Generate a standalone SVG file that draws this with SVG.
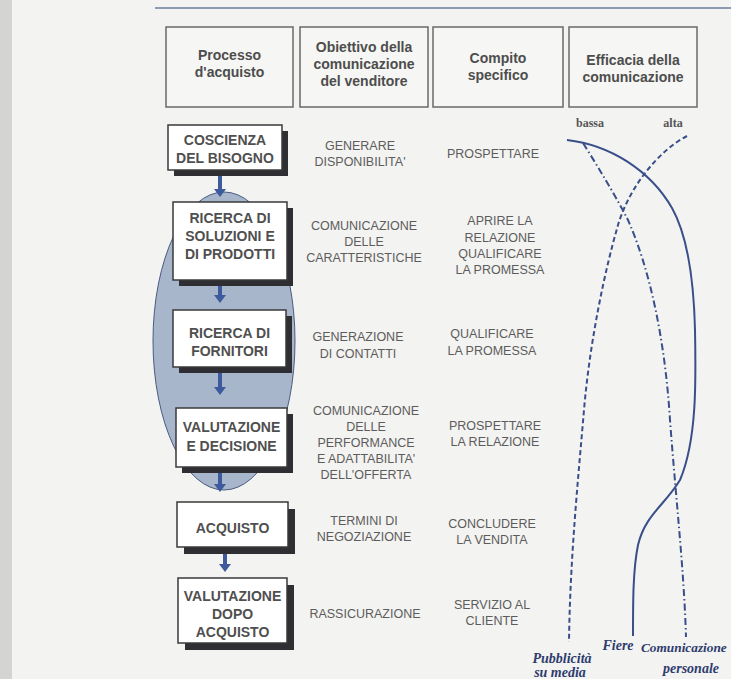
<svg xmlns="http://www.w3.org/2000/svg" width="731" height="679" viewBox="0 0 731 679">
<style>
.hdr{fill:#f6f6f4;stroke:#6a6a6a;stroke-width:1.5}
.ht{font-family:"Liberation Sans",Arial,sans-serif;font-weight:bold;font-size:14px;fill:#4d4d4d;text-anchor:middle}
.box{fill:#ffffff;stroke:#3a3a3a;stroke-width:1.5}
.sh{fill:#2f2f33}
.pt{font-family:"Liberation Sans",Arial,sans-serif;font-weight:bold;font-size:14px;fill:#4f4f4f;text-anchor:middle}
.ct{font-family:"Liberation Sans",Arial,sans-serif;font-size:12.5px;fill:#5c5c5c;text-anchor:middle}
.lbl{font-family:"Liberation Serif","Times New Roman",serif;font-weight:bold;font-style:italic;font-size:14px;fill:#2e3c6e;text-anchor:middle}
.ax{font-family:"Liberation Serif","Times New Roman",serif;font-weight:bold;font-size:12px;fill:#555;text-anchor:middle}
.arr{stroke:#3d5a9c;stroke-width:4;fill:none}
.ah{fill:#3d5a9c}
.cv{fill:none;stroke:#3a4f8a;stroke-width:2}
</style>
<rect x="0" y="0" width="731" height="679" fill="#f3f3f1"/>
<rect x="0" y="0" width="12" height="679" fill="#d4d4d2"/>
<line x1="155" y1="8" x2="731" y2="8" stroke="#8d9ab3" stroke-width="2"/>

<g id="headers">
  <g id="h1"><rect class="hdr" x="166" y="27" width="127" height="80"/>
    <text class="ht" x="229.5" y="60">Processo</text><text class="ht" x="229.5" y="77">d'acquisto</text></g>
  <g id="h2"><rect class="hdr" x="300" y="27" width="128" height="80"/>
    <text class="ht" x="364" y="52">Obiettivo della</text><text class="ht" x="364" y="69">comunicazione</text><text class="ht" x="364" y="86">del venditore</text></g>
  <g id="h3"><rect class="hdr" x="433" y="27" width="130" height="80"/>
    <text class="ht" x="498" y="63">Compito</text><text class="ht" x="498" y="80">specifico</text></g>
  <g id="h4"><rect class="hdr" x="569" y="27" width="128" height="80"/>
    <text class="ht" x="633" y="65">Efficacia della</text><text class="ht" x="633" y="82">comunicazione</text></g>
</g>

<ellipse id="area" cx="224" cy="341" rx="71" ry="149" fill="#a8b6cc" stroke="#4a5a80" stroke-width="1"/>

<g id="connectors">
  <line class="arr" x1="220" y1="175" x2="220" y2="190"/><polygon class="ah" points="214,189 226,189 220,197"/>
  <line class="arr" x1="220" y1="285" x2="220" y2="296"/><polygon class="ah" points="214,295 226,295 220,303"/>
  <line class="arr" x1="220" y1="373" x2="220" y2="388"/><polygon class="ah" points="214,387 226,387 220,395"/>
  <line class="arr" x1="220" y1="473" x2="220" y2="485"/><polygon class="ah" points="214,484 226,484 220,492"/>
  <line class="arr" x1="225" y1="553" x2="225" y2="565"/><polygon class="ah" points="219,564 231,564 225,572"/>
</g>

<g id="n1"><rect class="sh" x="174" y="131" width="114" height="45"/><rect class="box" x="168" y="125" width="114" height="45"/>
  <text class="pt" x="225" y="145">COSCIENZA</text><text class="pt" x="225" y="163">DEL BISOGNO</text></g>
<g id="n2"><rect class="sh" x="179" y="208" width="114" height="78"/><rect class="box" x="173" y="202" width="114" height="78"/>
  <text class="pt" x="230" y="223">RICERCA DI</text><text class="pt" x="230" y="241">SOLUZIONI E</text><text class="pt" x="230" y="259">DI PRODOTTI</text></g>
<g id="n3"><rect class="sh" x="179" y="316" width="113" height="57"/><rect class="box" x="173" y="310" width="113" height="57"/>
  <text class="pt" x="229.5" y="338">RICERCA DI</text><text class="pt" x="229.5" y="356">FORNITORI</text></g>
<g id="n4"><rect class="sh" x="182" y="414" width="111" height="59"/><rect class="box" x="176" y="408" width="111" height="59"/>
  <text class="pt" x="231.5" y="432">VALUTAZIONE</text><text class="pt" x="231.5" y="451">E DECISIONE</text></g>
<g id="n5"><rect class="sh" x="184" y="509" width="111" height="45"/><rect class="box" x="177" y="502" width="111" height="45"/>
  <text class="pt" x="232.5" y="533">ACQUISTO</text></g>
<g id="n6"><rect class="sh" x="185" y="585" width="109" height="65"/><rect class="box" x="178" y="578" width="109" height="65"/>
  <text class="pt" x="232.5" y="601">VALUTAZIONE</text><text class="pt" x="232.5" y="619">DOPO</text><text class="pt" x="232.5" y="637">ACQUISTO</text></g>

<g id="col2">
  <text class="ct" x="360" y="150">GENERARE</text><text class="ct" x="360" y="166">DISPONIBILITA'</text>
  <text class="ct" x="364" y="230">COMUNICAZIONE</text><text class="ct" x="364" y="246">DELLE</text><text class="ct" x="364" y="262">CARATTERISTICHE</text>
  <text class="ct" x="358" y="341">GENERAZIONE</text><text class="ct" x="358" y="358">DI CONTATTI</text>
  <text class="ct" x="366" y="415">COMUNICAZIONE</text><text class="ct" x="366" y="431">DELLE</text><text class="ct" x="366" y="447">PERFORMANCE</text><text class="ct" x="366" y="463">E ADATTABILITA'</text><text class="ct" x="366" y="479">DELL'OFFERTA</text>
  <text class="ct" x="364" y="525">TERMINI DI</text><text class="ct" x="364" y="541">NEGOZIAZIONE</text>
  <text class="ct" x="365" y="618">RASSICURAZIONE</text>
</g>
<g id="col3">
  <text class="ct" x="493" y="158">PROSPETTARE</text>
  <text class="ct" x="500" y="225">APRIRE LA</text><text class="ct" x="500" y="242">RELAZIONE</text><text class="ct" x="500" y="258">QUALIFICARE</text><text class="ct" x="500" y="274">LA PROMESSA</text>
  <text class="ct" x="492" y="338">QUALIFICARE</text><text class="ct" x="492" y="355">LA PROMESSA</text>
  <text class="ct" x="495" y="430">PROSPETTARE</text><text class="ct" x="495" y="446">LA RELAZIONE</text>
  <text class="ct" x="492" y="528">CONCLUDERE</text><text class="ct" x="492" y="544">LA VENDITA</text>
  <text class="ct" x="492" y="609">SERVIZIO AL</text><text class="ct" x="492" y="625">CLIENTE</text>
</g>

<g id="curves">
  <text class="ax" x="590" y="127">bassa</text><text class="ax" x="673" y="127">alta</text>
  <path id="pubblicita" class="cv" stroke-dasharray="5,3" d="M687,136 C660,150 630,185 618,225 C605,270 590,340 584,410 C578,480 570,560 569,642"/>
  <path id="personale" class="cv" stroke-dasharray="7,3,1.5,3" d="M583,143 C600,170 615,195 628,220 C650,270 665,340 670,420 C676,500 684,570 686,637"/>
  <path id="fiere" class="cv" d="M567,140 C610,145 650,170 672,208 C690,240 694,290 695,330 C696,380 697,440 680,480 C665,505 645,515 638,545 C633,570 633,600 633,636"/>
  <text class="lbl" x="562" y="663">Pubblicità</text><text class="lbl" x="560" y="677">su media</text>
  <text class="lbl" x="618" y="650">Fiere</text>
  <text class="lbl" x="641" y="652" style="text-anchor:start;font-size:13.3px">Comunicazione</text><text class="lbl" x="691" y="673">personale</text>
</g>
</svg>
